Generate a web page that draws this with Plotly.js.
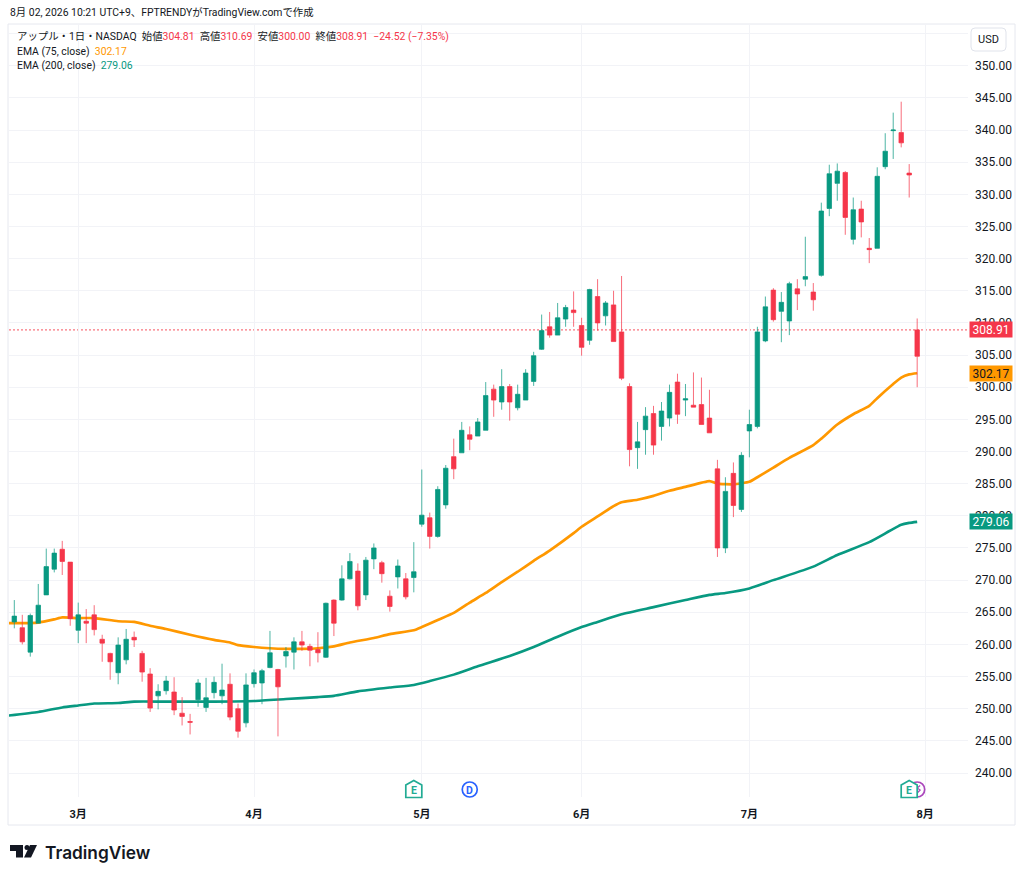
<!DOCTYPE html>
<html>
<head>
<meta charset="utf-8">
<script src="https://cdn.plot.ly/plotly-3.0.1.min.js"></script>
<style>
  html, body { margin: 0; padding: 0; background: #fff; }
  #chart { width: 1024px; height: 878px; }
</style>
</head>
<body>
<div id="chart"></div>
<script>
// Daily candles. Index 0 = 18 Feb, 113 = 31 Jul.
// The last candle is drawn red (close below previous close), so its body is stored top first.
var opens = [
  263.5,262.6,258.8,263.3,267.7,271.7,274.8,272.8,262.2,263.6,
  264.6,260.8,258.6,255.6,257.6,261.1,258.6,255.4,252.0,252.8,
  252.6,249.3,248.0,251.4,250.2,252.5,252.0,253.8,250.0,247.8,
  253.9,254.0,256.4,256.1,258.2,258.8,260.4,259.7,259.2,258.0,
  266.9,266.9,270.2,271.4,267.7,273.3,272.7,267.5,270.5,270.2,
  270.4,278.7,279.7,276.8,281.7,289.2,289.8,292.6,292.4,293.3,
  299.7,297.7,300.1,296.8,298.0,300.9,305.9,309.4,308.1,310.6,
  312.0,309.6,307.3,314.1,311.1,312.8,308.6,300.1,290.6,293.4,
  295.9,293.9,295.2,300.8,298.0,297.2,297.3,295.2,287.3,275.0,
  286.6,281.0,293.2,293.9,307.2,315.1,311.8,310.3,315.3,316.8,
  314.8,317.4,327.8,331.7,333.4,323.0,327.7,321.6,321.6,334.3,
  339.9,339.6,333.3,308.91
];
var highs = [
  266.9,264.6,264.8,269.4,274.9,274.9,276.1,272.8,266.5,265.5,
  266.1,261.5,258.7,261.1,262.4,262.0,259.0,256.3,253.8,255.1,
  254.9,251.8,249.2,254.6,254.8,255.0,257.0,255.5,250.8,255.5,
  256.1,256.2,262.1,256.2,259.6,261.1,262.1,260.1,261.9,266.5,
  267.0,272.3,274.2,272.6,273.6,275.7,273.0,268.4,273.2,271.1,
  275.9,287.2,280.5,284.6,287.9,292.0,294.6,293.9,295.2,300.8,
  300.4,302.8,300.5,300.4,302.8,305.5,311.3,311.7,313.1,312.8,
  314.9,310.8,315.3,316.8,313.4,315.0,317.3,300.6,294.6,296.9,
  297.1,297.7,300.4,302.1,300.5,302.3,301.5,299.6,288.7,286.0,
  288.3,289.9,296.5,309.4,314.1,315.4,314.8,316.4,316.8,323.4,
  316.2,328.7,334.6,334.8,333.6,329.5,329.0,323.2,334.2,339.5,
  342.7,344.4,334.7,310.69
];
var lows = [
  262.5,260.0,258.1,263.3,267.7,271.2,270.8,262.9,260.2,260.2,
  261.4,257.3,254.5,253.8,256.9,259.6,254.2,249.5,249.9,252.2,
  249.0,247.4,246.0,250.3,249.5,251.6,250.7,248.2,245.5,247.1,
  253.3,250.7,256.3,245.7,256.4,256.1,259.0,256.6,257.2,257.9,
  261.3,266.8,270.1,265.3,266.9,271.7,269.6,265.1,268.7,267.0,
  268.1,278.3,274.9,276.6,281.1,285.7,289.8,290.2,292.4,293.3,
  295.4,296.5,294.8,296.4,298.0,300.2,305.8,307.7,308.1,309.4,
  309.4,304.9,306.6,308.8,309.6,307.1,301.1,287.7,287.3,289.5,
  289.5,291.7,293.9,294.3,295.5,296.9,294.2,292.9,273.6,274.2,
  279.8,280.6,289.1,293.6,307.0,310.2,307.0,308.1,312.0,315.7,
  311.9,317.2,326.6,329.0,323.7,322.2,323.3,319.3,321.6,333.9,
  335.5,337.3,329.5,300.00
];
var closes = [
  264.4,260.4,264.5,266.1,272.1,274.2,272.9,264.0,264.6,263.3,
  262.3,260.2,257.3,259.9,260.8,260.7,255.7,250.1,252.7,254.3,
  249.8,248.8,247.9,254.0,251.7,254.1,252.9,248.7,246.5,253.7,
  255.6,255.9,258.7,253.4,258.9,260.4,259.9,259.1,258.7,266.4,
  263.3,270.2,272.9,266.0,273.1,275.0,271.0,265.9,272.2,267.4,
  271.3,280.1,276.8,284.1,287.4,287.3,293.3,291.9,294.6,298.7,
  298.0,300.1,297.7,298.9,302.2,304.9,308.8,308.1,310.8,312.4,
  311.6,306.2,315.2,310.0,313.1,307.1,301.4,290.3,291.5,295.5,
  291.0,296.3,299.2,295.8,298.2,296.9,294.2,292.9,275.0,283.8,
  281.6,289.4,294.2,308.6,312.5,310.5,313.2,316.1,314.5,317.2,
  313.6,327.4,333.2,333.6,326.4,327.6,325.7,321.4,332.8,336.7,
  340.0,338.0,333.0,304.81
];
var dayIndex = opens.map(function (v, i) { return i; });

var ema75Days = [-1,3,5,6,8,10,13,15,17,19,22,25,27,28,30,32,34,36,38,40,42,45,47,50,51,53,55,57,59,61,63,65,67,70,71,73,75,76,78,80,82,84,87,88,90,92,93,95,97,100,101,103,105,107,108,110,111,112,113];
var ema75 = [263.3,263.4,263.9,264.2,264.1,264.1,263.6,263.5,262.9,262.4,261.5,260.7,260.3,259.9,259.6,259.4,259.3,259.3,259.4,259.7,260.3,261,261.6,262.2,262.7,263.8,264.9,266.5,268,269.7,271.3,273,274.6,277.3,278.3,279.9,281.5,282.1,282.5,283.1,283.9,284.5,285.4,285,284.9,285.3,286,287.5,289,291,292,294.2,295.8,297.1,298.3,300.5,301.5,302,302.17];
var ema200Days = [-1,3,6,8,10,13,15,19,25,30,34,38,40,43,47,50,52,55,58,62,65,68,71,73,76,80,84,87,89,92,95,100,103,107,111,112,113];
var ema200 = [248.9,249.5,250.2,250.5,250.8,250.9,251.1,251.1,251.1,251.2,251.5,251.8,252,252.7,253.3,253.7,254.3,255.3,256.6,258.2,259.6,261.2,262.7,263.5,264.7,265.8,266.9,267.7,268,268.7,270,272.1,273.9,275.9,278.6,278.9,279.06];

var monthTicks = [8, 30, 51, 71, 92, 114];
var monthLabels = ['3月', '4月', '5月', '6月', '7月', '8月'];
var priceTicks = [240,245,250,255,260,265,270,275,280,285,290,295,300,305,310,315,320,325,330,335,340,345,350,355];

var lastClose = 308.91;
var lastEma75 = 302.17;
var lastEma200 = 279.06;
var earningsDays = [50, 112];
var dividendDay = 57;
var splitDay = 113;

var RED = '#f5364a', GREEN = '#089981', ORANGE = '#ff9800', TEXT = '#131722', GRID = '#f2f3f7';
var FONT = 'Roboto, "Noto Sans CJK JP", sans-serif';

// plot area in page pixels
var L = 9, R = 968, T = 25, B = 797;
function xp(px) { return (px - L) / (R - L); }
function yp(py) { return (B - py) / (B - T); }

var xRange = [-0.663, 119.36];
var yRange = [236.27, 356.33];

var ema75Trace = {
  type: 'scatter', mode: 'lines', x: ema75Days, y: ema75, hoverinfo: 'skip',
  line: { color: ORANGE, width: 2.7, shape: 'spline', smoothing: 0.5 }
};
var ema200Trace = {
  type: 'scatter', mode: 'lines', x: ema200Days, y: ema200, hoverinfo: 'skip',
  line: { color: GREEN, width: 2.6, shape: 'spline', smoothing: 0.5 }
};
// second axes so the candles sit on top of the EMA lines
var candles = {
  type: 'candlestick', xaxis: 'x2', yaxis: 'y2',
  x: dayIndex, open: opens, high: highs, low: lows, close: closes,
  whiskerwidth: 0, hoverinfo: 'skip',
  increasing: { fillcolor: GREEN, line: { color: 'rgba(8,153,129,0.72)', width: 1 } },
  decreasing: { fillcolor: RED, line: { color: 'rgba(245,54,74,0.72)', width: 1 } }
};

function note(text, px, py, opts) {
  return Object.assign({
    text: text, xref: 'paper', yref: 'paper', x: xp(px), y: yp(py),
    xanchor: 'left', yanchor: 'middle', showarrow: false, borderpad: 0,
    font: { family: FONT, size: 10.4, color: TEXT }
  }, opts || {});
}
function priceTag(price, fill, color) {
  return {
    text: price.toFixed(2), xref: 'paper', yref: 'y', x: xp(969), y: price,
    xanchor: 'left', yanchor: 'middle', showarrow: false, width: 42, height: 15,
    bgcolor: fill, borderpad: 0, align: 'center',
    font: { family: FONT, size: 12, color: color }
  };
}
function red(s) { return '<span style="color:' + RED + '">' + s + '</span>'; }

var annotations = [
  note('8月 02, 2026 10:21 UTC+9、FPTRENDYがTradingView.comで作成', 9, 13),
  note('アップル・1日・NASDAQ  始値' + red('304.81') + '  高値' + red('310.69') + '  安値' + red('300.00') +
       '  終値' + red('308.91') + '  ' + red('−24.52 (−7.35%)'), 15.5, 36),
  note('EMA (75, close)  <span style="color:' + ORANGE + '">' + lastEma75.toFixed(2) + '</span>', 15.5, 51),
  note('EMA (200, close)  <span style="color:' + GREEN + '">' + lastEma200.toFixed(2) + '</span>', 15.5, 66),
  note('USD', 988.5, 39.5, { xanchor: 'center', font: { family: FONT, size: 11, color: TEXT } }),
  note('TradingView', 44, 852, { font: { family: 'Inter, sans-serif', size: 17.3, color: TEXT, weight: 600 } }),
  priceTag(lastClose, RED, '#ffffff'),
  priceTag(lastEma75, ORANGE, TEXT),
  priceTag(lastEma200, GREEN, '#ffffff')
];

var shapes = [
  // frame round the whole widget
  { type: 'rect', xref: 'paper', yref: 'paper', x0: xp(8), x1: xp(1015), y0: yp(825), y1: yp(24),
    line: { color: '#e6e8ef', width: 1 }, layer: 'below' },
  // last price line
  { type: 'line', xref: 'paper', yref: 'y', x0: 0, x1: 1, y0: lastClose, y1: lastClose,
    line: { color: '#f7525f', width: 1, dash: '2px,2px' }, layer: 'below' },
  // USD button
  { type: 'path', xref: 'paper', yref: 'paper', layer: 'above',
    line: { color: '#e0e3eb', width: 1 }, fillcolor: '#ffffff',
    path: roundRect(971, 28, 1006, 51, 4) },
  // logo mark
  { type: 'path', xref: 'paper', yref: 'paper', line: { width: 0 }, fillcolor: TEXT,
    path: pathFrom([[10,845],[23,845],[23,857.5],[16,857.5],[16,851],[10,851]]) },
  { type: 'path', xref: 'paper', yref: 'paper', line: { width: 0 }, fillcolor: TEXT,
    path: pathFrom([[30,845],[37,845],[31,857.5],[24,857.5]]) },
  { type: 'circle', xref: 'paper', yref: 'paper', x0: xp(24.5), x1: xp(29.5), y0: yp(850), y1: yp(845),
    line: { width: 0 }, fillcolor: TEXT }
];

function pathFrom(pts) {
  return pts.map(function (p, i) {
    return (i ? 'L' : 'M') + xp(p[0]) + ',' + yp(p[1]);
  }).join(' ') + ' Z';
}
function roundRect(x0, y0, x1, y1, r) {
  return 'M' + xp(x0 + r) + ',' + yp(y0) + ' L' + xp(x1 - r) + ',' + yp(y0) +
    ' Q' + xp(x1) + ',' + yp(y0) + ' ' + xp(x1) + ',' + yp(y0 + r) +
    ' L' + xp(x1) + ',' + yp(y1 - r) +
    ' Q' + xp(x1) + ',' + yp(y1) + ' ' + xp(x1 - r) + ',' + yp(y1) +
    ' L' + xp(x0 + r) + ',' + yp(y1) +
    ' Q' + xp(x0) + ',' + yp(y1) + ' ' + xp(x0) + ',' + yp(y1 - r) +
    ' L' + xp(x0) + ',' + yp(y0 + r) +
    ' Q' + xp(x0) + ',' + yp(y0) + ' ' + xp(x0 + r) + ',' + yp(y0) + ' Z';
}
function dayPx(i) { return L + (i - xRange[0]) / (xRange[1] - xRange[0]) * (R - L); }

// event markers along the bottom of the pane, centred on their trading day
var ICON_Y = 789.5;
function circleIcon(day, color) {
  var cx = dayPx(day);
  shapes.push({ type: 'circle', xref: 'paper', yref: 'paper', x0: xp(cx - 7.5), x1: xp(cx + 7.5),
    y0: yp(ICON_Y + 7.5), y1: yp(ICON_Y - 7.5), line: { color: color, width: 1.7 }, fillcolor: '#ffffff' });
}
function earningsIcon(day) {
  var cx = dayPx(day);
  shapes.push({ type: 'path', xref: 'paper', yref: 'paper', line: { color: '#22ab94', width: 1.7 }, fillcolor: '#ffffff',
    path: pathFrom([[cx, 780.5], [cx + 8, 785], [cx + 8, 797.5], [cx - 8, 797.5], [cx - 8, 785]]) });
  annotations.push(note('<b>E</b>', cx, 790, { xanchor: 'center', font: { family: FONT, size: 10.5, color: '#22ab94' } }));
}
circleIcon(splitDay, '#ab47bc');
(function () {
  var cx = dayPx(splitDay) + 1;
  shapes.push({ type: 'path', xref: 'paper', yref: 'paper', line: { color: '#ab47bc', width: 1.2 },
    path: 'M' + xp(cx + 2) + ',' + yp(785.5) + ' L' + xp(cx - 1) + ',' + yp(788) + ' L' + xp(cx + 2) + ',' + yp(790) +
      ' L' + xp(cx - 1) + ',' + yp(793) });
})();
circleIcon(dividendDay, '#2962ff');
annotations.push(note('<b>D</b>', dayPx(dividendDay), 790, { xanchor: 'center', font: { family: FONT, size: 10.5, color: '#2962ff' } }));
earningsDays.forEach(earningsIcon);

var layout = {
  width: 1024, height: 878,
  margin: { l: L, r: 1024 - R, t: T, b: 878 - B, pad: 0 },
  paper_bgcolor: '#ffffff', plot_bgcolor: '#ffffff',
  showlegend: false,
  boxgap: 0.2,
  xaxis: {
    range: xRange, type: 'linear', rangeslider: { visible: false },
    tickmode: 'array', tickvals: monthTicks,
    ticktext: monthLabels.map(function (m) { return '<b>' + m + '</b>'; }),
    ticks: '', showline: false, zeroline: false, showgrid: true, gridcolor: GRID, gridwidth: 1,
    ticklabelstandoff: 9,
    tickfont: { family: FONT, size: 11, color: TEXT }
  },
  yaxis: {
    range: yRange, type: 'linear', side: 'right',
    tickmode: 'array', tickvals: priceTicks,
    ticktext: priceTicks.map(function (p) { return p === 355 ? '' : p.toFixed(2); }),
    ticks: '', showline: false, zeroline: false, showgrid: true, gridcolor: GRID, gridwidth: 1,
    ticklabelstandoff: 6,
    tickfont: { family: FONT, size: 12, color: TEXT }
  },
  xaxis2: { overlaying: 'x', range: xRange, type: 'linear', visible: false, rangeslider: { visible: false } },
  yaxis2: { overlaying: 'y', range: yRange, type: 'linear', visible: false, side: 'right' },
  annotations: annotations,
  shapes: shapes
};

Plotly.newPlot('chart', [ema75Trace, ema200Trace, candles], layout, { staticPlot: true, displayModeBar: false });
</script>
</body>
</html>
